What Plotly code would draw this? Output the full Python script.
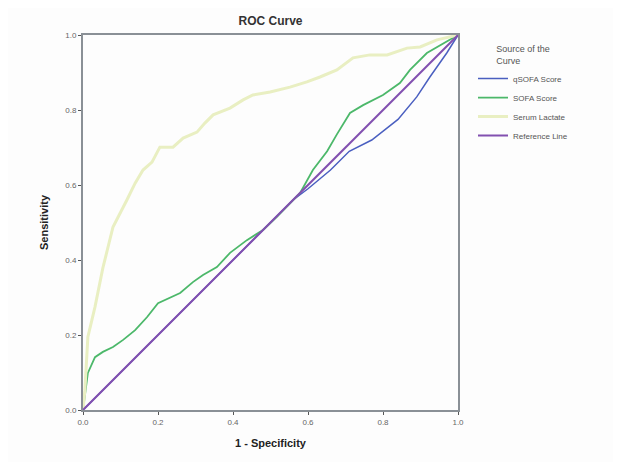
import plotly.graph_objects as go

# 1 - Specificity (x) and Sensitivity (y) per curve
qsofa_x = [0.0, 0.20, 0.40, 0.56, 0.60, 0.66, 0.71, 0.77, 0.84, 0.89, 0.925, 0.97, 1.0]
qsofa_y = [0.0, 0.20, 0.40, 0.56, 0.59, 0.64, 0.69, 0.72, 0.775, 0.835, 0.888, 0.952, 1.0]

sofa_x = [0.0, 0.013, 0.032, 0.053, 0.08, 0.107, 0.139, 0.171, 0.20, 0.232, 0.259, 0.293, 0.32,
          0.357, 0.392, 0.437, 0.48, 0.517, 0.579, 0.613, 0.651, 0.677, 0.712, 0.747, 0.80,
          0.845, 0.872, 0.917, 0.971, 1.0]
sofa_y = [0.0, 0.099, 0.141, 0.155, 0.168, 0.187, 0.213, 0.248, 0.285, 0.299, 0.312, 0.341, 0.36,
          0.381, 0.419, 0.453, 0.48, 0.515, 0.579, 0.64, 0.69, 0.735, 0.792, 0.813, 0.84,
          0.872, 0.907, 0.952, 0.983, 1.0]

lact_x = [0.0, 0.005, 0.013, 0.032, 0.053, 0.072, 0.08, 0.117, 0.139, 0.16, 0.184, 0.205, 0.24,
          0.267, 0.304, 0.325, 0.347, 0.392, 0.427, 0.453, 0.499, 0.552, 0.597, 0.632, 0.677,
          0.72, 0.765, 0.811, 0.864, 0.899, 0.944, 1.0]
lact_y = [0.0, 0.053, 0.195, 0.275, 0.379, 0.453, 0.488, 0.56, 0.605, 0.64, 0.661, 0.701, 0.701,
          0.725, 0.741, 0.765, 0.787, 0.805, 0.827, 0.84, 0.848, 0.861, 0.875, 0.888, 0.907,
          0.939, 0.947, 0.947, 0.965, 0.968, 0.987, 1.0]

ref_x = [0.0, 1.0]
ref_y = [0.0, 1.0]

tick_vals = [0.0, 0.2, 0.4, 0.6, 0.8, 1.0]
tick_text = ["0.0", "0.2", "0.4", "0.6", "0.8", "1.0"]

font = "Liberation Sans, Arial, sans-serif"

fig = go.Figure()
fig.add_trace(go.Scatter(x=qsofa_x, y=qsofa_y, mode="lines", name="qSOFA Score",
                         line=dict(color="#4a5fc0", width=1.5)))
fig.add_trace(go.Scatter(x=sofa_x, y=sofa_y, mode="lines", name="SOFA Score",
                         line=dict(color="#4cb86a", width=1.8)))
fig.add_trace(go.Scatter(x=lact_x, y=lact_y, mode="lines", name="Serum Lactate",
                         line=dict(color="#e9efc2", width=3)))
fig.add_trace(go.Scatter(x=ref_x, y=ref_y, mode="lines", name="Reference Line",
                         line=dict(color="#8250b0", width=2)))

axis_common = dict(range=[0, 1], tickvals=tick_vals, ticktext=tick_text,
                   showgrid=False, zeroline=False, showline=True, mirror=True,
                   linecolor="#8a9096", linewidth=2, ticks="outside", ticklen=3,
                   tickcolor="#555", automargin=False,
                   tickfont=dict(size=8, color="#666", family=font))

fig.update_layout(
    width=613, height=454,
    margin=dict(l=75, r=163, t=27, b=52),
    paper_bgcolor="#fdfdfd", plot_bgcolor="#fdfdfd",
    title=dict(text="<b>ROC Curve</b>", x=0.5, xref="paper", y=0.972, yanchor="middle",
               font=dict(size=12, color="#333", family=font)),
    xaxis=dict(title=dict(text="<b>1 - Specificity</b>", font=dict(size=11, color="#222", family=font),
                          standoff=14), **axis_common),
    yaxis=dict(title=dict(text="<b>Sensitivity</b>", font=dict(size=11, color="#222", family=font),
                          standoff=14), **axis_common),
    legend=dict(x=1.04, y=0.985, xanchor="left", yanchor="top",
                bgcolor="rgba(0,0,0,0)", tracegroupgap=0, itemwidth=30,
                font=dict(size=8, color="#555", family=font),
                title=dict(text="Source of the<br>Curve", side="top center",
                           font=dict(size=9, color="#555", family=font))),
    showlegend=True,
)

fig.write_html("out.html")
